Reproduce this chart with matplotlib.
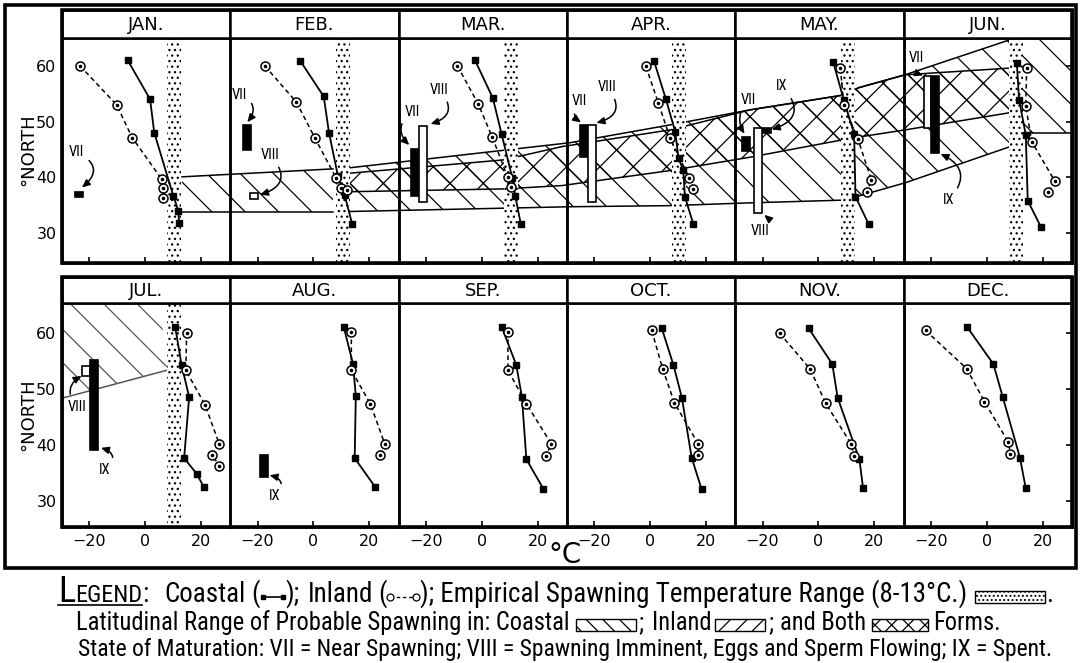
import matplotlib
matplotlib.use("Agg")
import matplotlib.pyplot as plt
from matplotlib.patches import Rectangle, Polygon
from matplotlib.lines import Line2D

W, H, DPI = 1082, 663, 100

MONTHS = ["JAN.", "FEB.", "MAR.", "APR.", "MAY.", "JUN.",
          "JUL.", "AUG.", "SEP.", "OCT.", "NOV.", "DEC."]

# Coastal (filled squares, solid line): latitude (deg N) and temperature (deg C)
COASTAL_LAT = [
    [61.0, 54.0, 48.0, 36.7, 34.0, 31.7],
    [60.9, 54.5, 48.0, 40.2, 36.8, 31.6],
    [61.0, 54.2, 47.8, 39.8, 36.7, 31.6],
    [60.9, 54.0, 48.2, 43.4, 41.3, 36.5, 31.6],
    [60.7, 53.9, 47.8, 36.5, 31.6],
    [60.5, 53.9, 47.6, 35.8, 31.1],
    [61.0, 54.2, 48.5, 37.6, 34.8, 32.4],
    [61.0, 54.4, 48.7, 37.6, 32.4],
    [61.0, 54.2, 48.5, 37.4, 32.1],
    [60.8, 54.2, 48.4, 37.7, 32.0],
    [60.8, 54.4, 48.4, 37.4, 32.3],
    [61.0, 54.4, 48.6, 37.7, 32.2],
]
COASTAL_TEMP = [
    [-6.2, 1.8, 3.3, 10.1, 11.9, 12.2],
    [-4.7, 3.7, 5.6, 8.8, 11.2, 13.9],
    [-2.4, 4.0, 7.1, 11.0, 12.0, 14.0],
    [1.4, 5.7, 9.0, 10.2, 11.9, 12.5, 15.5],
    [5.3, 9.1, 12.8, 13.3, 18.0],
    [10.8, 11.6, 14.0, 14.7, 19.4],
    [10.8, 13.1, 15.8, 14.0, 18.5, 21.1],
    [10.9, 14.2, 15.2, 14.8, 22.2],
    [7.2, 12.4, 14.4, 16.0, 22.1],
    [4.2, 8.4, 11.4, 14.9, 18.5],
    [-3.5, 5.0, 6.9, 14.7, 16.0],
    [-7.0, 2.4, 5.7, 11.9, 14.0],
]
# Inland (open circles, dashed line)
INLAND_LAT = [
    [60.0, 53.0, 47.1, 39.7, 38.0, 36.2],
    [60.0, 53.5, 47.1, 39.8, 38.0, 37.7],
    [60.0, 53.2, 47.2, 40.0, 38.2],
    [59.9, 53.3, 47.0, 39.8, 37.9],
    [59.6, 53.0, 46.8, 39.5, 37.4],
    [59.6, 52.8, 46.4, 39.4, 37.3],
    [60.0, 53.3, 47.1, 40.1, 38.2, 36.2],
    [60.2, 53.3, 47.3, 40.1, 38.2],
    [60.2, 53.3, 47.3, 40.1, 38.0],
    [60.4, 53.6, 47.5, 40.1, 38.2],
    [59.9, 53.5, 47.4, 40.1, 38.0],
    [60.4, 53.6, 47.7, 40.4, 38.3],
]
INLAND_TEMP = [
    [-23.3, -10.2, -4.6, 5.9, 6.6, 6.6],
    [-17.4, -6.1, 0.5, 8.2, 10.0, 12.2],
    [-8.7, -1.3, 3.8, 9.3, 10.6],
    [-1.5, 3.0, 7.2, 14.1, 15.5],
    [7.9, 9.1, 14.2, 19.0, 17.4],
    [14.3, 14.0, 16.1, 24.3, 22.1],
    [14.9, 14.6, 21.5, 26.6, 24.0, 26.6],
    [13.6, 13.6, 20.4, 25.6, 23.9],
    [9.4, 9.4, 16.0, 25.0, 22.9],
    [0.6, 4.5, 8.7, 17.3, 17.3],
    [-13.9, -2.9, 2.6, 11.8, 12.8],
    [-21.9, -7.2, -0.8, 7.8, 8.5],
]

# Empirical spawning temperature range
SPAWN_LO, SPAWN_HI = 8, 13
STIPPLE_MONTHS = [0, 1, 2, 3, 4, 5, 6]

# State of maturation bars
MAT_MONTH = [0, 1, 1, 2, 2, 3, 3, 4, 4, 4, 5, 5, 6, 6, 7]
MAT_FILLED = [1, 1, 0, 1, 0, 1, 0, 1, 0, 1, 0, 1, 0, 1, 1]
MAT_X = [-23.7, -23.8, -21.2, -23.9, -20.9, -23.7, -20.9, -25.8, -21.7, -18.4,
         -21.2, -18.5, -21.2, -18.4, -17.7]
MAT_LO = [36.5, 44.9, 36.1, 36.6, 35.5, 43.7, 35.6, 44.8, 33.6, 47.9, 48.8, 44.3, 52.3, 39.1, 34.3]
MAT_HI = [37.4, 49.4, 37.1, 45.0, 49.2, 49.3, 49.3, 47.2, 48.8, 48.8, 58.1, 58.1, 54.0, 55.1, 38.2]

# Stage labels with curved arrows
LAB_MONTH = [0, 1, 1, 2, 2, 3, 3, 4, 4, 4, 5, 5, 6, 6, 7]
LAB_TEXT = ["VII", "VII", "VIII", "VII", "VIII", "VII", "VIII", "VII", "VIII", "IX",
            "VII", "IX", "VIII", "IX", "IX"]
LAB_X = [-24.5, -26.5, -15.5, -24.8, -15.3, -25.3, -15.5, -25.0, -20.8, -13.0,
         -25.1, -13.7, -24.5, -14.3, -13.9]
LAB_Y = [44.5, 54.8, 44.0, 51.8, 55.7, 53.6, 56.2, 53.9, 30.3, 56.3,
         61.4, 35.9, 46.8, 35.5, 30.8]
LAB_TX = [-23.0, -24.0, -19.6, -25.6, -18.8, -24.3, -19.7, -26.2, -19.8, -17.2,
          -22.3, -17.0, -22.3, -16.3, -16.2]
LAB_TY = [38.0, 49.7, 36.8, 45.6, 49.5, 49.7, 49.7, 47.6, 33.4, 48.5,
          58.2, 44.3, 52.4, 39.5, 34.6]
LAB_RAD = [-0.8, -0.7, -0.8, 0.6, -0.8, 0.6, -0.8, 0.4, 0.9, -0.8,
           0.6, 0.7, -0.6, 0.9, 0.9]

# Latitudinal ranges of probable spawning (x = month position, 0..6 per row)
C1_T = [0.713, 1.610]
C1_UP = [40.07, 41.5]
C1_LO = [33.8, 33.8]
C2_T = [1.711, 3.018, 3.613, 4.088, 4.652, 4.73, 5.009, 5.633]
C2_UP = [41.7, 46.2, 49.4, 52.1, 54.8, 56.05, 58.4, 64.7]
C2_LO = [33.85, 34.7, 34.9, 35.4, 35.9, 36.6, 39.0, 45.5]
C4_T = [5.692, 6.0]
C4_UP = [65.0, 65.0]
C4_LO = [48.0, 48.0]
B_T = [1.711, 2.62, 2.97, 3.613, 4.088, 4.652, 4.73, 5.009, 5.633]
B_UP = [40.73, 43.1, 45.5, 48.5, 52.1, 54.8, 56.05, 58.4, 59.6]
B_LO = [37.4, 37.9, 38.5, 41.2, 43.6, 46.8, 47.2, 48.5, 51.6]
J_T = [0.0, 0.582, 0.624]
J_UP = [65.3, 65.3, 53.3]
J_LO = [48.3, 52.96, 53.3]

plt.rcParams['font.family'] = ['DejaVu Sans']
plt.rcParams['hatch.linewidth'] = 0.9
LEG_FONT = ['Liberation Sans Narrow', 'Roboto Condensed', 'DejaVu Sans']

fig = plt.figure(figsize=(W / DPI, H / DPI), dpi=DPI)
fig.patch.set_facecolor('white')


def frect(x0, y0, x1, y1):
    return [x0 / W, 1 - y1 / H, (x1 - x0) / W, (y1 - y0) / H]


PANEL_X0 = 62.0
PANEL_W = 168.33
ROWS = [
    dict(htop=10, top=38, bot=263, ylim=(24.6, 65.0)),
    dict(htop=277, top=303, bot=527, ylim=(25.3, 65.3)),
]
XLIM = (-29.75, 30.55)

overlays = []
for r in ROWS:
    ov = fig.add_axes(frect(PANEL_X0, r['top'], PANEL_X0 + 6 * PANEL_W, r['bot']), zorder=0)
    ov.set_xlim(0, 6)
    ov.set_ylim(*r['ylim'])
    ov.axis('off')
    overlays.append(ov)


def band(ax, t, up, lo, hatch, color='k', upline=True, loline=True, lw=1.1):
    verts = list(zip(t, up)) + list(zip(t[::-1], lo[::-1]))
    ax.add_patch(Polygon(verts, closed=True, facecolor='none', edgecolor=color,
                         lw=0, hatch=hatch))
    if upline:
        ax.plot(t, up, color=color, lw=lw)
    if loline:
        ax.plot(t, lo, color=color, lw=lw)


band(overlays[0], C1_T, C1_UP, C1_LO, '\\')
band(overlays[0], C2_T, C2_UP, C2_LO, '\\')
band(overlays[0], C4_T, C4_UP, C4_LO, '\\', upline=False)
band(overlays[0], B_T, B_UP, B_LO, 'x')
band(overlays[1], J_T, J_UP, J_LO, '\\', color='#555555', upline=False)

for i in range(12):
    row, col = divmod(i, 6)
    r = ROWS[row]
    x0 = PANEL_X0 + col * PANEL_W
    x1 = x0 + PANEL_W
    ax = fig.add_axes(frect(x0, r['top'], x1, r['bot']), zorder=1)
    ax.set_facecolor('none')
    ax.set_xlim(*XLIM)
    ax.set_ylim(*r['ylim'])
    for s in ax.spines.values():
        s.set_linewidth(1.8)

    if i in STIPPLE_MONTHS:
        y0, y1 = r['ylim']
        ax.add_patch(Rectangle((SPAWN_LO, y0), SPAWN_HI - SPAWN_LO, y1 - y0,
                               facecolor='white', edgecolor='k', lw=0,
                               hatch='...', zorder=1))

    ax.plot(COASTAL_TEMP[i], COASTAL_LAT[i], '-', color='k', lw=1.3,
            marker='s', ms=5, mfc='k', mec='k', zorder=4)
    ax.plot(INLAND_TEMP[i], INLAND_LAT[i], color='k', lw=1.1,
            linestyle=(0, (3.0, 2.2)), marker='o', ms=6.5, mfc='white',
            mec='k', mew=1.1, zorder=4)
    ax.plot(INLAND_TEMP[i], INLAND_LAT[i], linestyle='none', marker='o',
            ms=1.6, color='k', zorder=5)

    for k in range(len(MAT_MONTH)):
        if MAT_MONTH[k] == i:
            w = 2.8
            ax.add_patch(Rectangle((MAT_X[k] - w / 2, MAT_LO[k]), w,
                                   MAT_HI[k] - MAT_LO[k],
                                   facecolor='k' if MAT_FILLED[k] else 'white',
                                   edgecolor='k', lw=1.2, zorder=6))
    for k in range(len(LAB_MONTH)):
        if LAB_MONTH[k] == i:
            ax.annotate(LAB_TEXT[k], xy=(LAB_TX[k], LAB_TY[k]),
                        xytext=(LAB_X[k], LAB_Y[k]), fontsize=10.5,
                        family=LEG_FONT, fontstretch='condensed',
                        ha='center', va='center', zorder=7,
                        arrowprops=dict(arrowstyle='-|>,head_length=0.45,head_width=0.2',
                                        connectionstyle='arc3,rad=%s' % LAB_RAD[k],
                                        color='k', lw=1.1, shrinkA=2, shrinkB=1))

    ax.set_xticks([-20, 0, 20])
    ax.tick_params(axis='x', direction='in', length=4, width=1.2,
                   labelbottom=(row == 1), labelsize=11.5, pad=5)
    if col == 0:
        ax.set_yticks([30, 40, 50, 60])
        ax.tick_params(axis='y', length=0, labelsize=11.5, pad=4)
    elif col == 5:
        ax.set_yticks([30, 40, 50, 60])
        ax.yaxis.set_ticks_position('right')
        ax.tick_params(axis='y', direction='in', length=4, width=1.2,
                       labelright=False, labelleft=False)
    else:
        ax.set_yticks([])

    hx = fig.add_axes(frect(x0, r['htop'], x1, r['top']), zorder=1)
    hx.set_xticks([])
    hx.set_yticks([])
    for s in hx.spines.values():
        s.set_linewidth(1.8)
    hx.text(0.5, 0.47, MONTHS[i], ha='center', va='center', fontsize=13,
            transform=hx.transAxes)

# frames
for (a, b, c, d, lw) in [(62, 10, 1072, 263, 2.6), (62, 277, 1072, 527, 2.6),
                         (5, 5, 1076, 568, 2.6)]:
    fig.add_artist(Rectangle((a / W, 1 - d / H), (c - a) / W, (d - b) / H,
                             transform=fig.transFigure, fill=False, lw=lw,
                             edgecolor='k', zorder=10))

fig.text(28 / W, 1 - 150 / H, '°NORTH', rotation=90, ha='center', va='center', fontsize=13)
fig.text(28 / W, 1 - 415 / H, '°NORTH', rotation=90, ha='center', va='center', fontsize=13)
fig.text(565 / W, 1 - 555 / H, '°C', ha='center', va='center', fontsize=20)

# ---------------- legend text block ----------------
renderer = fig.canvas.get_renderer()


def text_w(s, size):
    t = fig.text(0, 0, s, fontsize=size, family=LEG_FONT, fontstretch='condensed')
    w = t.get_window_extent(renderer).width
    t.remove()
    return w


def layout(items, x_start, x_end, y_base, size0):
    tw, fixed = 0.0, 0.0
    for it in items:
        if it[0] == 't':
            tw += text_w(it[1], size0 * it[2])
        elif it[0] == 'g':
            fixed += it[1]
        else:
            fixed += it[2]
    size = size0 * (x_end - x_start - fixed) / tw
    x = x_start
    ul = []
    for it in items:
        kind = it[0]
        if kind == 't':
            t = fig.text(x / W, 1 - y_base / H, it[1], fontsize=size * it[2],
                         family=LEG_FONT, fontstretch='condensed',
                         ha='left', va='baseline')
            w = t.get_window_extent(renderer).width
            if len(it) > 3 and it[3] == 'u':
                ul.append((x, x + w))
            x += w
        elif kind == 'g':
            x += it[1]
        elif kind == 'box':
            bw = it[2]
            bh = 12
            fig.add_artist(Rectangle((x / W, 1 - (y_base + 1) / H), bw / W, bh / H,
                                     transform=fig.transFigure, facecolor='white',
                                     edgecolor='k', lw=1.0, hatch=it[1]))
            x += bw
        elif kind == 'coastal':
            bw = it[2]
            yy = 1 - (y_base - 5) / H
            fig.add_artist(Line2D([(x + 3) / W, (x + bw - 3) / W], [yy, yy],
                                  transform=fig.transFigure, color='k', lw=1.2,
                                  marker='s', ms=3.5))
            x += bw
        elif kind == 'inland':
            bw = it[2]
            yy = 1 - (y_base - 5) / H
            fig.add_artist(Line2D([(x + 4) / W, (x + bw - 4) / W], [yy, yy],
                                  transform=fig.transFigure, color='k', lw=1.0,
                                  linestyle=(0, (2.5, 2)), marker='o', ms=5,
                                  mfc='white', mew=0.9))
            x += bw
    if ul:
        yy = 1 - (y_base + 3) / H
        fig.add_artist(Line2D([ul[0][0] / W, ul[-1][1] / W], [yy, yy],
                              transform=fig.transFigure, color='k', lw=1.2))


LINE1 = [('t', 'L', 1.35, 'u'), ('t', 'EGEND', 0.9, 'u'), ('t', ':', 1.0),
         ('g', 16), ('t', 'Coastal', 1.0), ('g', 5), ('t', '(', 1.0),
         ('coastal', 0, 26), ('t', ');', 1.0), ('g', 8), ('t', 'Inland', 1.0),
         ('g', 5), ('t', '(', 1.0), ('inland', 0, 34),
         ('t', '); Empirical Spawning Temperature Range (8-13°C.)', 1.0),
         ('g', 7), ('box', '....', 70), ('g', 2), ('t', '.', 1.0)]
LINE2 = [('t', 'Latitudinal Range of Probable Spawning in: Coastal', 1.0), ('g', 6),
         ('box', '\\\\', 60), ('g', 3), ('t', ';', 1.0), ('g', 8), ('t', 'Inland', 1.0),
         ('g', 4), ('box', '//', 50), ('g', 3), ('t', ';', 1.0), ('g', 7),
         ('t', 'and Both', 1.0), ('g', 6), ('box', 'xx', 56), ('g', 5),
         ('t', 'Forms.', 1.0)]
LINE3 = [('t', 'State of Maturation: VII = Near Spawning; VIII = Spawning Imminent, '
               'Eggs and Sperm Flowing; IX = Spent.', 1.0)]

layout(LINE1, 58, 1050, 602, 12)
layout(LINE2, 76, 1000, 630, 12)
layout(LINE3, 78, 1056, 656, 12)

fig.savefig('out.png', dpi=DPI, facecolor='white')
